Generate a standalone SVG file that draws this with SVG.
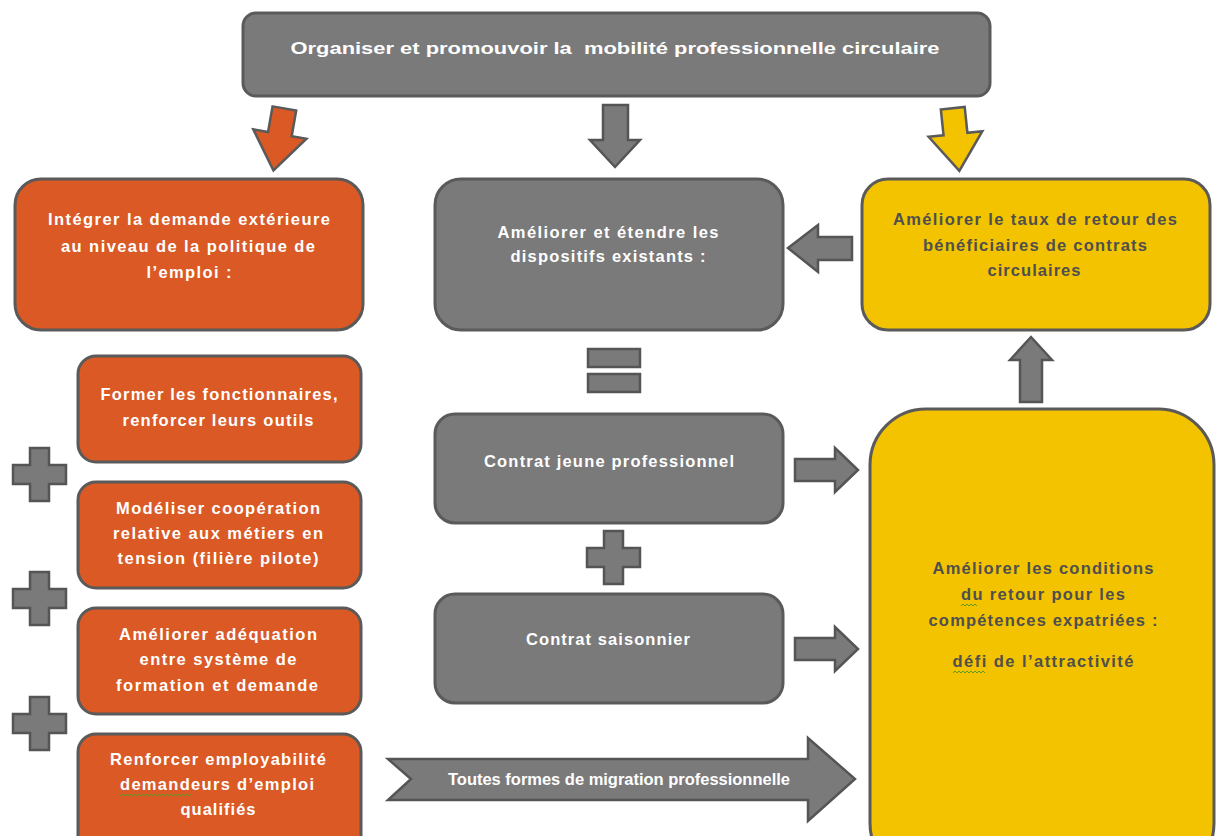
<svg xmlns="http://www.w3.org/2000/svg" width="1217" height="836" viewBox="0 0 1217 836">
<style>
.g{fill:#7a7a7a;stroke:#5a5a5a;stroke-width:3}
.o{fill:#da5925;stroke:#5a5a5a;stroke-width:3}
.y{fill:#f3c300;stroke:#5a5a5a;stroke-width:3}
.ya{fill:#f3c300;stroke:#5a5a5a;stroke-width:2.5}
.oa{fill:#da5925;stroke:#5a5a5a;stroke-width:2.5}
.ga{fill:#7a7a7a;stroke:#555;stroke-width:2.5}
text{font-family:"Liberation Sans",Arial,sans-serif;font-weight:bold;font-size:16.5px;text-anchor:middle}
.w{fill:#ffffff}
.d{fill:#4f4f4f}
.sq{fill:none;stroke:#5c9a2e;stroke-width:1}
</style>
<rect width="1217" height="836" fill="#ffffff"/>

<g id="top">
<rect class="g" x="243" y="13" width="747" height="83" rx="13"/>
<text class="w" x="615" y="54" font-size="19" textLength="649" lengthAdjust="spacingAndGlyphs">Organiser et promouvoir la&#160; mobilité professionnelle circulaire</text>
</g>

<g id="integrer">
<rect class="o" x="15" y="179" width="348" height="151" rx="26"/>
<text class="w" x="189" y="225" textLength="282" lengthAdjust="spacing">Intégrer la demande extérieure</text>
<text class="w" x="188" y="252" textLength="254" lengthAdjust="spacing">au niveau de la politique de</text>
<text class="w" x="189" y="278" textLength="85" lengthAdjust="spacing">l’emploi :</text>
</g>

<g id="ameliorer-dispositifs">
<rect class="g" x="435" y="179" width="348" height="151" rx="26"/>
<text class="w" x="608" y="238" textLength="221" lengthAdjust="spacing">Améliorer et étendre les</text>
<text class="w" x="608" y="262" textLength="195" lengthAdjust="spacing">dispositifs existants :</text>
</g>

<g id="taux-retour">
<rect class="y" x="862" y="179" width="348" height="151" rx="26"/>
<text class="d" x="1035" y="225" textLength="284" lengthAdjust="spacing">Améliorer le taux de retour des</text>
<text class="d" x="1035" y="251" textLength="224" lengthAdjust="spacing">bénéficiaires de contrats</text>
<text class="d" x="1034" y="276" textLength="93" lengthAdjust="spacing">circulaires</text>
</g>

<g id="former">
<rect class="o" x="78" y="356" width="283" height="106" rx="18"/>
<text class="w" x="219" y="400" textLength="237" lengthAdjust="spacing">Former les fonctionnaires,</text>
<text class="w" x="218" y="426" textLength="191" lengthAdjust="spacing">renforcer leurs outils</text>
</g>

<g id="modeliser">
<rect class="o" x="78" y="482" width="283" height="106" rx="18"/>
<text class="w" x="218" y="514" textLength="204" lengthAdjust="spacing">Modéliser coopération</text>
<text class="w" x="218" y="539" textLength="210" lengthAdjust="spacing">relative aux métiers en</text>
<text class="w" x="218" y="564" textLength="201" lengthAdjust="spacing">tension (filière pilote)</text>
</g>

<g id="adequation">
<rect class="o" x="78" y="608" width="283" height="106" rx="18"/>
<text class="w" x="218" y="640" textLength="198" lengthAdjust="spacing">Améliorer adéquation</text>
<text class="w" x="218" y="665" textLength="157" lengthAdjust="spacing">entre système de</text>
<text class="w" x="217" y="691" textLength="202" lengthAdjust="spacing">formation et demande</text>
</g>

<g id="employabilite">
<rect class="o" x="78" y="734" width="283" height="120" rx="18"/>
<text class="w" x="218" y="765" textLength="216" lengthAdjust="spacing">Renforcer employabilité</text>
<text class="w" x="217" y="790" textLength="194" lengthAdjust="spacing">demandeurs d’emploi</text>
<text class="w" x="218" y="815" textLength="75" lengthAdjust="spacing">qualifiés</text>
<path class="sq" d="M120,796 l2,-2 l2,2 l2,-2 l2,2 l2,-2 l2,2 l2,-2 l2,2 l2,-2 l2,2 l2,-2 l2,2 l2,-2 l2,2 l2,-2 l2,2 l2,-2 l2,2 l2,-2 l2,2 l2,-2 l2,2 l2,-2 l2,2 l2,-2 l2,2 l2,-2 l2,2 l2,-2 l2,2 l2,-2 l2,2 l2,-2 l2,2 l2,-2 l2,2"/>
</g>

<g id="contrat-jeune">
<rect class="g" x="435" y="414" width="348" height="109" rx="20"/>
<text class="w" x="609" y="467" textLength="250" lengthAdjust="spacing">Contrat jeune professionnel</text>
</g>

<g id="contrat-saisonnier">
<rect class="g" x="435" y="594" width="348" height="109" rx="20"/>
<text class="w" x="608" y="645" textLength="164" lengthAdjust="spacing">Contrat saisonnier</text>
</g>

<g id="conditions-retour">
<rect class="y" x="870" y="409" width="344" height="470" rx="56"/>
<text class="d" x="1043" y="574" textLength="221" lengthAdjust="spacing">Améliorer les conditions</text>
<text class="d" x="1043" y="600" textLength="164" lengthAdjust="spacing">du retour pour les</text>
<text class="d" x="1043" y="626" textLength="229" lengthAdjust="spacing">compétences expatriées :</text>
<text class="d" x="1043" y="667" textLength="181" lengthAdjust="spacing">défi de l’attractivité</text>
<path class="sq" d="M961,606 l2,-2 l2,2 l2,-2 l2,2 l2,-2 l2,2 l2,-2 l2,2"/>
<path class="sq" d="M953,673 l2,-2 l2,2 l2,-2 l2,2 l2,-2 l2,2 l2,-2 l2,2 l2,-2 l2,2 l2,-2 l2,2 l2,-2 l2,2 l2,-2 l2,2"/>
</g>

<g id="connectors">
<path class="oa" transform="translate(279,139) rotate(10)" d="M-12,-31 H12 V-5 H27 L0,32 L-27,-5 H-12 Z"/>
<path class="ga" d="M603,105 H628 V140 H640 L615,167 L590,140 H603 Z"/>
<path class="ya" transform="translate(956,139) rotate(-6)" d="M-12,-31 H12 V-5 H27 L0,32 L-27,-5 H-12 Z"/>
<path class="ga" d="M852,237 V260 H818 V272 L788,248 L818,225 V237 Z"/>
<path class="ga" d="M1020,402 V360 H1010 L1031,337 L1052,360 H1042 V402 Z"/>
<path class="ga" d="M795,459 H835 V448 L858,470 L835,492 V481 H795 Z"/>
<path class="ga" d="M795,638 H835 V627 L858,649 L835,671 V660 H795 Z"/>
<rect class="ga" x="588" y="349" width="52" height="18"/>
<rect class="ga" x="588" y="374" width="52" height="18"/>
<path class="ga" d="M604,531 H623 V548 H640 V567 H623 V584 H604 V567 H587 V548 H604 Z"/>
<path class="ga" d="M30,448 H49 V465 H66 V484 H49 V501 H30 V484 H13 V465 H30 Z"/>
<path class="ga" d="M30,572 H49 V589 H66 V608 H49 V625 H30 V608 H13 V589 H30 Z"/>
<path class="ga" d="M30,697 H49 V714 H66 V733 H49 V750 H30 V733 H13 V714 H30 Z"/>
<g id="migration">
<path class="ga" d="M388,759 H808 V738 L855,779 L808,821 V800 H388 L411,779 Z"/>
<text class="w" x="619" y="785" textLength="342" lengthAdjust="spacing">Toutes formes de migration professionnelle</text>
</g>
</g>
</svg>
